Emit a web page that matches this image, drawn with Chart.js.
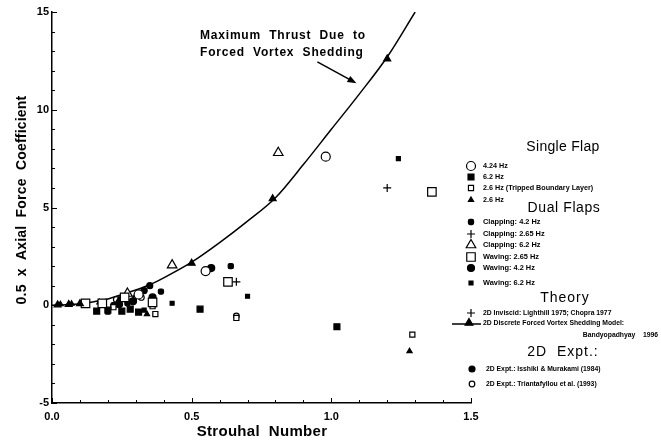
<!DOCTYPE html>
<html>
<head>
<meta charset="utf-8">
<script src="https://cdn.jsdelivr.net/npm/chart.js@4.4.1/dist/chart.umd.min.js"></script>
<style>
  body { margin: 0; background: #fff; }
  #wrap { width: 661px; height: 445px; position: relative; }
</style>
</head>
<body>
<div id="wrap"><canvas id="ctx"></canvas></div>
<script>
// Discrete forced vortex shedding model (Bandyopadhyay 1996)
const curveSt = [0, 0.05, 0.1, 0.15, 0.2, 0.25, 0.3, 0.35, 0.4, 0.5, 0.6, 0.7, 0.8, 0.9, 1.0, 1.1, 1.2, 1.3];
const curveCa = [0, 0.03, 0.08, 0.18, 0.32, 0.55, 0.78, 1.05, 1.4, 2.2, 3.2, 4.3, 5.5, 7.2, 9.0, 10.8, 12.7, 15.0];
const modelSt = [0.02, 0.06, 0.1, 0.5, 0.79, 1.2];
const modelCa = [0.02, 0.04, 0.08, 2.15, 5.45, 12.6];

// single flap
const flap424 = [[0.98, 7.6], [0.55, 1.75], [0.31, 0.55]];
const flap62 = [[1.02, -1.1], [0.53, -0.2], [0.16, -0.3], [0.2, -0.25], [0.25, -0.3], [0.28, -0.2], [0.31, -0.35]];
const flapTripped = [[1.29, -1.5], [0.37, -0.45], [0.66, -0.65], [0.36, -0.05], [0.22, -0.1]];
const flap26 = [[1.28, -2.35], [0.34, -0.45], [0.03, 0.05], [0.07, 0.08], [0.24, 0.3], [0.17, 0.15], [0.3, 0.5]];

// dual flaps
const clap42 = [[0.64, 2.0], [0.39, 0.7], [0.22, 0.0], [0.27, 0.1]];
const clap265 = [[0.66, 1.2], [0.29, 0.3]];
const clap62 = [[0.81, 7.8], [0.43, 2.05], [0.27, 0.6]];
const wave265 = [[1.36, 5.8], [0.63, 1.2], [0.12, 0.1], [0.18, 0.1], [0.26, 0.4], [0.36, 0.15]];
const wave42 = [[0.57, 1.9], [0.36, 0.4], [0.29, 0.2], [0.24, 0.05]];
const wave62 = [[1.24, 7.5], [0.70, 0.46], [0.43, 0.1], [0.2, -0.35], [0.33, -0.25]];

// theory and 2D experiments
const lighthill = [[1.20, 6.0]];
const isshiki = [[0.35, 1.0], [0.33, 0.75]];
const triantafyllou = [[0.23, 0.3], [0.66, -0.55], [0.32, 0.4]];

const xTicks = [0, 0.5, 1.0, 1.5];
const yTicks = [-5, 0, 5, 10, 15];

const FONT = '"Liberation Sans", Arial, sans-serif';
const pts = arr => arr.map(([x, y]) => ({ x, y }));

function marks(label, data, style, radius, filled) {
  return {
    label,
    data: pts(data),
    pointStyle: style,
    pointRadius: radius,
    pointHoverRadius: radius,
    pointBorderWidth: 1.2,
    pointBorderColor: '#000',
    pointBackgroundColor: filled ? '#000' : '#fff',
    showLine: false
  };
}

const datasets = [
  {
    label: 'curve',
    data: curveSt.map((x, i) => ({ x, y: curveCa[i] })),
    showLine: true,
    borderColor: '#000',
    borderWidth: 1.5,
    pointRadius: 0,
    cubicInterpolationMode: 'monotone',
    order: 20
  },
  marks('2D Discrete Forced Vortex Shedding Model', modelSt.map((x, i) => [x, modelCa[i]]), 'triangle', 4, true),
  marks('Waving: 2.65 Hz', wave265, 'rect', 6, false),
  marks('4.24 Hz', flap424, 'circle', 4.5, false),
  marks('Clapping: 6.2 Hz', clap62, 'triangle', 5.5, false),
  marks('6.2 Hz', flap62, 'rect', 4.2, true),
  marks('2.6 Hz (Tripped Boundary Layer)', flapTripped, 'rect', 3.6, false),
  marks('2.6 Hz', flap26, 'triangle', 3, true),
  marks('Clapping: 4.2 Hz', clap42, 'rectRounded', 3, true),
  marks('Clapping: 2.65 Hz', clap265, 'cross', 4, false),
  marks('Waving: 4.2 Hz', wave42, 'circle', 3.5, true),
  marks('Waving: 6.2 Hz', wave62, 'rect', 2.8, true),
  marks('2D Inviscid: Lighthill 1975; Chopra 1977', lighthill, 'cross', 4, false),
  marks('2D Expt.: Isshiki & Murakami (1984)', isshiki, 'circle', 3, true),
  marks('2D Expt.: Triantafyllou et al. (1993)', triantafyllou, 'circle', 2.8, false)
];

// small inward tick marks on both axes
const innerTicks = {
  id: 'innerTicks',
  afterDraw(chart) {
    const { ctx, scales: { x, y } } = chart;
    ctx.save();
    ctx.strokeStyle = '#000';
    ctx.lineWidth = 1;
    for (let i = 0; i <= 15; i++) {
      const px = Math.round(x.getPixelForValue(i / 10)) + 0.5;
      const len = i % 5 === 0 ? 5 : 3;
      ctx.beginPath();
      ctx.moveTo(px, y.bottom);
      ctx.lineTo(px, y.bottom - len);
      ctx.stroke();
    }
    for (let v = -5; v <= 15; v++) {
      const py = Math.round(y.getPixelForValue(v)) + 0.5;
      const len = v % 5 === 0 ? 5 : 3;
      ctx.beginPath();
      ctx.moveTo(x.left, py);
      ctx.lineTo(x.left + len, py);
      ctx.stroke();
    }
    ctx.restore();
  }
};

function drawMark(ctx, style, r, filled, px, py) {
  ctx.fillStyle = filled ? '#000' : '#fff';
  ctx.strokeStyle = '#000';
  ctx.lineWidth = 1.2;
  Chart.helpers.drawPoint(ctx, { pointStyle: style, radius: r, rotation: 0, borderWidth: 1.2 }, px, py);
}

function text(ctx, str, px, py, size, weight, align, spacing) {
  ctx.font = weight + ' ' + size + 'px ' + FONT;
  ctx.textAlign = align || 'left';
  ctx.textBaseline = 'middle';
  ctx.letterSpacing = (spacing || 0) + 'px';
  ctx.fillText(str, px, py);
  ctx.letterSpacing = '0px';
}

// axis titles, callout and the grouped key on the right
const annotations = {
  id: 'annotations',
  afterDraw(chart) {
    const { ctx, scales: { x, y } } = chart;
    ctx.save();
    ctx.fillStyle = '#000';

    text(ctx, 'Strouhal  Number', 262, 432, 15, 'bold', 'center', 0.3);
    ctx.save();
    ctx.translate(22, 200);
    ctx.rotate(-Math.PI / 2);
    ctx.fillStyle = '#000';
    text(ctx, '0.5  x  Axial  Force  Coefficient', 0, 0, 14, 'bold', 'center', 0.2);
    ctx.restore();

    ctx.fillStyle = '#000';
    text(ctx, 'Maximum  Thrust  Due  to', 200, 36, 12, 'bold', 'left', 0.8);
    text(ctx, 'Forced  Vortex  Shedding', 200, 53, 12, 'bold', 'left', 0.8);

    // arrow toward the model curve
    const ax0 = x.getPixelForValue(0.95), ay0 = y.getPixelForValue(12.45);
    const ax1 = x.getPixelForValue(1.09), ay1 = y.getPixelForValue(11.35);
    const ang = Math.atan2(ay1 - ay0, ax1 - ax0);
    ctx.strokeStyle = '#000';
    ctx.lineWidth = 1.5;
    ctx.beginPath();
    ctx.moveTo(ax0, ay0);
    ctx.lineTo(ax1 - 6 * Math.cos(ang), ay1 - 6 * Math.sin(ang));
    ctx.stroke();
    ctx.beginPath();
    ctx.moveTo(ax1, ay1);
    ctx.lineTo(ax1 - 9 * Math.cos(ang) + 3.5 * Math.sin(ang), ay1 - 9 * Math.sin(ang) - 3.5 * Math.cos(ang));
    ctx.lineTo(ax1 - 9 * Math.cos(ang) - 3.5 * Math.sin(ang), ay1 - 9 * Math.sin(ang) + 3.5 * Math.cos(ang));
    ctx.closePath();
    ctx.fill();

    // key
    const mx = 471, tx = 483;
    text(ctx, 'Single Flap', 563, 147, 14, 'normal', 'center', 0.3);
    const single = [
      ['circle', 4.5, false, '4.24 Hz', 166],
      ['rect', 4.2, true, '6.2 Hz', 177],
      ['rect', 3.6, false, '2.6 Hz (Tripped Boundary Layer)', 188],
      ['triangle', 3, true, '2.6 Hz', 200]
    ];
    single.forEach(([s, r, f, lbl, py]) => {
      drawMark(ctx, s, r, f, mx, py);
      ctx.fillStyle = '#000';
      text(ctx, lbl, tx, py, 7.2, 'bold');
    });

    text(ctx, 'Dual Flaps', 564, 208, 14, 'normal', 'center', 0.6);
    const dual = [
      ['rectRounded', 3, true, 'Clapping: 4.2 Hz', 222],
      ['cross', 4, false, 'Clapping: 2.65 Hz', 234],
      ['triangle', 5.5, false, 'Clapping: 6.2 Hz', 245],
      ['rect', 6, false, 'Waving: 2.65 Hz', 257],
      ['circle', 3.5, true, 'Waving: 4.2 Hz', 268],
      ['rect', 2.8, true, 'Waving: 6.2 Hz', 283]
    ];
    dual.forEach(([s, r, f, lbl, py]) => {
      drawMark(ctx, s, r, f, mx, py);
      ctx.fillStyle = '#000';
      text(ctx, lbl, tx, py, 7.4, 'bold');
    });

    text(ctx, 'Theory', 565, 298, 14, 'normal', 'center', 1);
    drawMark(ctx, 'cross', 4, false, mx, 313);
    ctx.fillStyle = '#000';
    text(ctx, '2D Inviscid: Lighthill 1975; Chopra 1977', tx, 313, 6.8, 'bold');
    ctx.strokeStyle = '#000';
    ctx.lineWidth = 1.5;
    ctx.beginPath();
    ctx.moveTo(452, 324);
    ctx.lineTo(481, 324);
    ctx.stroke();
    drawMark(ctx, 'triangle', 4.5, true, 469, 323);
    ctx.fillStyle = '#000';
    text(ctx, '2D Discrete Forced Vortex Shedding Model:', tx, 323, 6.8, 'bold');
    text(ctx, 'Bandyopadhyay    1996', 658, 335, 6.8, 'bold', 'right');

    text(ctx, '2D  Expt.:', 563, 352, 14, 'normal', 'center', 1);
    drawMark(ctx, 'circle', 3, true, 472, 369);
    ctx.fillStyle = '#000';
    text(ctx, '2D Expt.: Isshiki & Murakami (1984)', 486, 369, 6.8, 'bold');
    drawMark(ctx, 'circle', 2.8, false, 472, 384);
    ctx.fillStyle = '#000';
    text(ctx, '2D Expt.: Triantafyllou et al. (1993)', 486, 384, 6.8, 'bold');

    ctx.restore();
  }
};

new Chart(document.getElementById('ctx'), {
  type: 'scatter',
  data: { datasets },
  options: {
    responsive: true,
    maintainAspectRatio: false,
    animation: false,
    layout: { padding: { left: 0, right: 190, top: 12, bottom: 0 } },
    plugins: { legend: { display: false }, tooltip: { enabled: false } },
    scales: {
      x: {
        type: 'linear',
        min: 0, max: 1.5,
        afterFit: s => { s.height = 42; },
        afterBuildTicks: s => { s.ticks = xTicks.map(v => ({ value: v })); },
        grid: { display: false, drawTicks: false },
        border: { display: true, color: '#000', width: 1.5 },
        ticks: {
          padding: 7,
          color: '#000',
          font: { family: FONT, size: 11, weight: 'bold' },
          callback: v => v.toFixed(1)
        }
      },
      y: {
        type: 'linear',
        min: -5, max: 15,
        afterFit: s => { s.width = 52; },
        afterBuildTicks: s => { s.ticks = yTicks.map(v => ({ value: v })); },
        grid: { display: false, drawTicks: false },
        border: { display: true, color: '#000', width: 1.5 },
        ticks: {
          padding: 3,
          color: '#000',
          font: { family: FONT, size: 11, weight: 'bold' }
        }
      }
    }
  },
  plugins: [innerTicks, annotations]
});
</script>
</body>
</html>
